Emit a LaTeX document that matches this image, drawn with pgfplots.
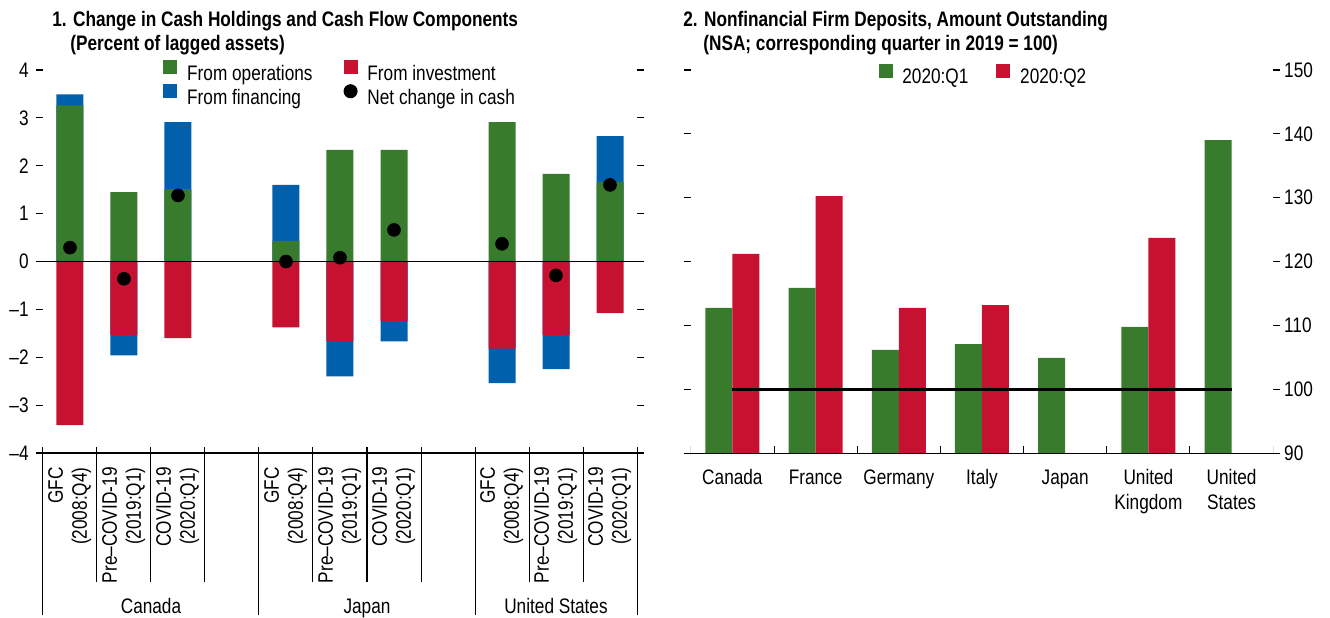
\documentclass[border=0pt]{standalone}
\usepackage{fontspec}
\setmainfont{Liberation Sans}[FakeStretch=0.82]
\usepackage{pgfplots}
\pgfplotsset{compat=1.18}
\definecolor{opsgreen}{RGB}{57,123,45}
\definecolor{invred}{RGB}{198,18,48}
\definecolor{finblue}{RGB}{0,96,172}
\pgfplotsset{
  sqkey/.style={legend image code/.code={\fill[#1] (0pt,0.3pt) rectangle (6.5pt,6.8pt); \path (11.5pt,0pt);}},
  dotkey/.style={legend image code/.code={\fill[black] (3.25pt,3.55pt) circle (3.3pt); \path (11pt,0pt);}},
}
\newcommand{\tl}[2]{\begin{tabular}{@{}r@{}}#1\\#2\end{tabular}}
\renewcommand{\arraystretch}{0.96}
\begin{document}
\fontsize{10.5pt}{12.5pt}\selectfont
\begin{tikzpicture}
\useasboundingbox (0,0) rectangle (665pt,308.5pt);
% titles
\node[anchor=base west,inner sep=0pt,font=\bfseries] at (26pt,295pt) {1. Change in Cash Holdings and Cash Flow Components};
\node[anchor=base west,inner sep=0pt,font=\bfseries] at (35pt,283pt) {(Percent of lagged assets)};
\node[anchor=base west,inner sep=0pt,font=\bfseries] at (341.5pt,295pt) {2. Nonfinancial Firm Deposits, Amount Outstanding};
\node[anchor=base west,inner sep=0pt,font=\bfseries] at (351.5pt,283pt) {(NSA; corresponding quarter in 2019 = 100)};

% panel 1
\begin{axis}[
  at={(21.5pt,82pt)}, anchor=south west, scale only axis,
  width=297pt, height=191.5pt,
  xmin=-0.5, xmax=10.5, ymin=-4, ymax=4,
  axis line style={draw=none},
  clip=false,
  ytick={-4,...,4}, yticklabels={--4,--3,--2,--1,0,1,2,3,4},
  ytick pos=both, yticklabel pos=left, ytick align=outside,
  major tick length=3.5pt, y tick style={black, line width=0.6pt},
  xtick={0,1,2,4,5,6,8,9,10},
  xticklabels={{\tl{GFC}{(2008:Q4)}},{\tl{Pre--COVID-19}{(2019:Q1)}},{\tl{COVID-19}{(2020:Q1)}},
               {\tl{GFC}{(2008:Q4)}},{\tl{Pre--COVID-19}{(2019:Q1)}},{\tl{COVID-19}{(2020:Q1)}},
               {\tl{GFC}{(2008:Q4)}},{\tl{Pre--COVID-19}{(2019:Q1)}},{\tl{COVID-19}{(2020:Q1)}}},
  x tick style={draw=none},
  xticklabel style={yshift=-7pt, rotate=90, anchor=east, inner sep=0pt},
  legend columns=2, legend cell align=left,
  legend style={at={(0.202,1.026)}, anchor=north west, draw=none, fill=none,
    inner sep=0pt, nodes={inner sep=0pt}, row sep=0.3pt,
    /tikz/every even column/.append style={column sep=15.5pt}},
]
\addlegendimage{sqkey=opsgreen}
\addlegendentry{From operations}
\addlegendimage{sqkey=invred}
\addlegendentry{From investment}
\addlegendimage{sqkey=finblue}
\addlegendentry{From financing}
\addlegendimage{dotkey}
\addlegendentry{Net change in cash}
% financing: drawn to the outer end of each stack, then covered by the other parts
\addplot[ybar, bar width=13.5pt, bar shift=0pt, fill=finblue, draw=none, forget plot]
  coordinates {(0,3.49) (2,2.91) (4,1.60) (10,2.62)};
\addplot[ybar, bar width=13.5pt, bar shift=0pt, fill=finblue, draw=none, forget plot]
  coordinates {(1,-1.96) (5,-2.40) (6,-1.67) (8,-2.54) (9,-2.25)};
% operations
\addplot[ybar, bar width=13.5pt, bar shift=0pt, fill=opsgreen, draw=none, forget plot]
  coordinates {(0,3.26) (1,1.45) (2,1.51) (4,0.43) (5,2.33) (6,2.33) (8,2.91) (9,1.83) (10,1.66)};
% investment
\addplot[ybar, bar width=13.5pt, bar shift=0pt, fill=invred, draw=none, forget plot]
  coordinates {(0,-3.42) (1,-1.53) (2,-1.60) (4,-1.375) (5,-1.67) (6,-1.24) (8,-1.82) (9,-1.53) (10,-1.08)};
\draw[black, line width=0.6pt] (axis cs:-0.5,0) -- (axis cs:10.5,0);
% net change
\addplot[only marks, mark=*, mark size=3.2pt, black, forget plot]
  coordinates {(0,0.29) (1,-0.36) (2,1.38) (4,0.00) (5,0.08) (6,0.66) (8,0.37) (9,-0.29) (10,1.60)};
% bottom line and category separators
\draw[black, line width=0.6pt] (rel axis cs:0,0) -- (rel axis cs:1,0);
\pgfplotsinvokeforeach{0.5,1.5,2.5,4.5,5.5,6.5,8.5,9.5}{
  \draw[black, line width=0.5pt] ([yshift=3pt]axis cs:#1,-4) -- ([yshift=-64.5pt]axis cs:#1,-4);
}
\pgfplotsinvokeforeach{-0.5,3.5,7.5,10.5}{
  \draw[black, line width=0.5pt] ([yshift=3pt]axis cs:#1,-4) -- ([yshift=-81pt]axis cs:#1,-4);
}
\node[anchor=base] at ([yshift=-80pt]axis cs:1.5,-4) {Canada};
\node[anchor=base] at ([yshift=-80pt]axis cs:5.5,-4) {Japan};
\node[anchor=base] at ([yshift=-80pt]axis cs:9,-4) {United States};
\end{axis}

% panel 2
\begin{axis}[
  at={(345.4pt,81.85pt)}, anchor=south west, scale only axis,
  width=291.2pt, height=191.7pt,
  xmin=-0.5, xmax=6.5, ymin=90, ymax=150,
  axis line style={draw=none},
  ytick={90,100,...,150}, ytick pos=both, yticklabel pos=right, ytick align=outside,
  major tick length=3.5pt, y tick style={black, line width=0.6pt},
  yticklabel style={inner xsep=1.8pt},
  /pgf/number format/assume math mode=true,
  xtick={0,...,6},
  xticklabels={Canada,France,Germany,Italy,Japan,{United\\Kingdom},{United\\States}},
  x tick style={draw=none},
  xticklabel style={align=center, anchor=north, inner sep=0pt, yshift=-8pt},
  legend columns=2, legend cell align=left,
  legend style={at={(0.3217,1.016)}, anchor=north west, draw=none, fill=none,
    inner sep=0pt, nodes={inner sep=0pt},
    /tikz/every even column/.append style={column sep=14pt}},
]
\addlegendimage{sqkey=opsgreen}
\addlegendentry{2020:Q1}
\addlegendimage{sqkey=invred}
\addlegendentry{2020:Q2}
\addplot[ybar, bar width=13.5pt, bar shift=-6.75pt, fill=opsgreen, draw=none, forget plot]
  coordinates {(0,112.76) (1,115.9) (2,106.2) (3,107.1) (4,104.95) (5,109.8) (6,139.0)};
\addplot[ybar, bar width=13.5pt, bar shift=6.75pt, fill=invred, draw=none, forget plot]
  coordinates {(0,121.2) (1,130.26) (2,112.76) (3,113.2) (5,123.7)};
\addplot[black, line width=1.3pt, sharp plot, no marks, forget plot]
  coordinates {(0,100) (6,100)};
\draw[black, line width=0.6pt] (rel axis cs:0,0) -- (rel axis cs:1,0);
\pgfplotsinvokeforeach{-0.5,0.5,1.5,2.5,3.5,4.5,5.5,6.5}{
  \draw[black, line width=0.5pt] (axis cs:#1,90) -- ([yshift=3.5pt]axis cs:#1,90);
}
\end{axis}
\end{tikzpicture}
\end{document}
